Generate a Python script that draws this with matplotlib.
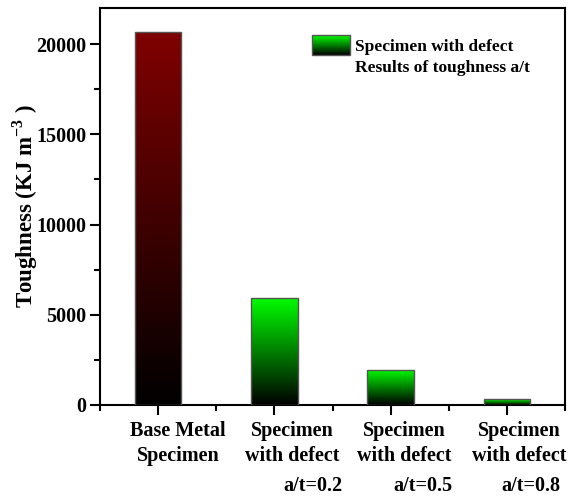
import numpy as np
import matplotlib
matplotlib.use('Agg')
import matplotlib.pyplot as plt
from matplotlib.colors import LinearSegmentedColormap
from matplotlib.ticker import MultipleLocator

plt.rcParams['font.family'] = ['Liberation Serif', 'DejaVu Serif']
plt.rcParams['font.weight'] = 'bold'
plt.rcParams['mathtext.fontset'] = 'custom'
plt.rcParams['mathtext.rm'] = 'Liberation Serif:bold'
plt.rcParams['mathtext.bf'] = 'Liberation Serif:bold'

# data
categories = ['Base Metal\nSpecimen', 'Specimen\nwith defect', 'Specimen\nwith defect', 'Specimen\nwith defect']
ratio_labels = ['', 'a/t=0.2', 'a/t=0.5', 'a/t=0.8']
toughness = [20650, 5950, 1940, 330]
top_colors = ['#800000', '#00ff00', '#00ff00', '#00ff00']
legend_text = 'Specimen with defect\nResults of toughness a/t'

fig = plt.figure(figsize=(5.72, 5.0), dpi=100)
ax = fig.add_axes([0.1748, 0.19, 0.813, 0.794])

x = np.arange(1, len(toughness) + 1)
width = 0.4
grad = np.linspace(0, 1, 256).reshape(-1, 1)

bars = ax.bar(x, toughness, width, facecolor='none', edgecolor='#555555', linewidth=1.0, zorder=3)
for b, c in zip(bars, top_colors):
    cmap = LinearSegmentedColormap.from_list('g', ['black', c])
    x0, y0 = b.get_x(), b.get_y()
    im = ax.imshow(grad, cmap=cmap, origin='lower', aspect='auto',
                   extent=[x0, x0 + b.get_width(), y0, y0 + b.get_height()], zorder=2)
    im.set_clip_path(b)

# legend (manual, gradient swatch)
gcmap = LinearSegmentedColormap.from_list('lg', ['black', '#00ff00'])
lx0, lx1, ly0, ly1 = 0.455, 0.537, 0.882, 0.932
ax.imshow(grad, cmap=gcmap, origin='lower', aspect='auto', extent=[lx0, lx1, ly0, ly1],
          transform=ax.transAxes, zorder=4)
ax.add_patch(plt.Rectangle((lx0, ly0), lx1 - lx0, ly1 - ly0, transform=ax.transAxes,
                           facecolor='none', edgecolor='#555555', linewidth=1.0, zorder=5))
ax.text(0.548, 0.876, legend_text, transform=ax.transAxes, fontsize=12.5, fontweight='bold',
        va='center', ha='left', linespacing=1.45)

ax.set_xlim(0.5, 4.5)
ax.set_ylim(0, 22000)

ax.yaxis.set_major_locator(MultipleLocator(5000))
ax.yaxis.set_minor_locator(MultipleLocator(2500))
ax.set_xticks(x)
ax.set_xticks(np.arange(0.5, 4.6, 1.0), minor=True)
ax.set_xticklabels([])
ax.tick_params(axis='both', which='major', direction='out', length=7, width=1.5, labelsize=14.5)
ax.tick_params(axis='both', which='minor', direction='out', length=4, width=1.5)
ax.tick_params(axis='y', pad=3)
for lbl in ax.get_yticklabels():
    lbl.set_fontweight('bold')

for s in ax.spines.values():
    s.set_linewidth(1.5)

# x labels drawn as text so the a/t line can be right aligned
label_shift = [0.17, 0.15, 0.12, 0.11]
ratio_right = [0.0, 0.585, 0.53, 0.46]
trans = ax.get_xaxis_transform()
for xi, cat, r, dx, rr in zip(x, categories, ratio_labels, label_shift, ratio_right):
    ax.text(xi + dx, -0.04, cat, transform=trans, ha='center', va='top', fontsize=14.5,
            fontweight='bold', linespacing=1.35)
    if r:
        ax.text(xi + rr, -0.04 - 0.138, r, transform=trans, ha='right', va='top', fontsize=14.5,
                fontweight='bold')

ax.set_ylabel(r'Toughness (KJ m$^{-3}$ )', fontsize=16.5, fontweight='bold', labelpad=-3)

fig.savefig('out.png', dpi=100)
